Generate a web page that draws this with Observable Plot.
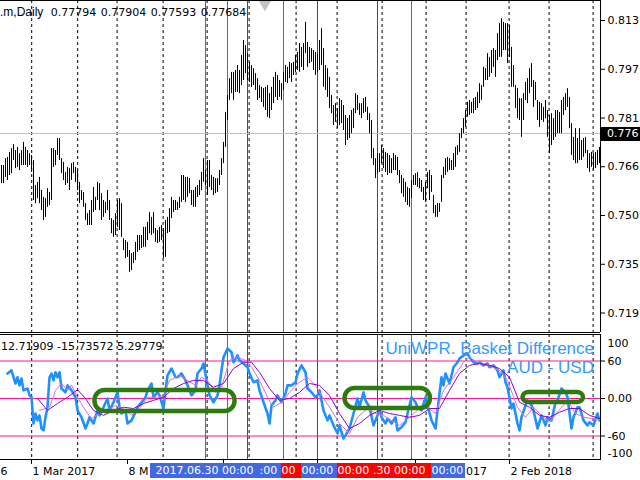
<!DOCTYPE html>
<html><head><meta charset="utf-8">
<script src="https://cdn.jsdelivr.net/npm/d3@7"></script>
<script src="https://cdn.jsdelivr.net/npm/@observablehq/plot@0.6"></script>
<style>
html,body{margin:0;padding:0;background:#fff;}
#wrap{position:relative;width:640px;height:480px;overflow:hidden;background:#fff;font-family:"DejaVu Sans",sans-serif;font-size:11px;color:#000;}
#wrap svg{position:absolute;left:0;}
.t{position:absolute;white-space:pre;line-height:11px;font-size:11px;font-family:"DejaVu Sans",sans-serif;}
.box{position:absolute;height:15px;overflow:hidden;}
.box span{position:absolute;top:0;line-height:15px;color:#fff;white-space:pre;font-size:11px;font-family:"DejaVu Sans",sans-serif;}
.big{position:absolute;white-space:pre;font-family:"Liberation Sans",Arial,sans-serif;font-size:17px;line-height:17px;color:#3399ff;text-align:right;}
</style></head><body><div id="wrap"></div>
<script>
// ---- Price bars (daily high / low), one per bar ----
const high = [
.7666,.7666,.7688,.7692,.7708,.7720,.7733,.7714,.7724,.7704,
.7714,.7740,.7724,.7714,.7704,.7698,.7682,.7602,.7612,.7628,
.7586,.7564,.7560,.7592,.7580,.7720,.7720,.7714,.7752,.7752,
.7688,.7676,.7644,.7660,.7656,.7672,.7676,.7660,.7650,.7612,
.7586,.7580,.7544,.7512,.7522,.7554,.7596,.7564,.7612,.7608,
.7576,.7554,.7548,.7586,.7554,.7496,.7490,.7512,.7554,.7560,
.7544,.7432,.7426,.7420,.7394,.7384,.7388,.7420,.7442,.7442,
.7442,.7468,.7468,.7484,.7516,.7500,.7516,.7464,.7458,.7468,
.7474,.7464,.7490,.7500,.7528,.7564,.7554,.7554,.7548,.7564,
.7634,.7634,.7628,.7628,.7624,.7586,.7586,.7596,.7602,.7618,
.7644,.7688,.7650,.7682,.7682,.7634,.7628,.7624,.7624,.7650,
.7688,.7740,.7836,.7890,.7944,.7964,.7964,.7970,.7986,.7970,
.8018,.8066,.8050,.8024,.7996,.7986,.7976,.7960,.7944,.7922,
.7916,.7912,.7916,.7922,.7896,.7916,.7948,.7964,.7954,.7938,
.7928,.7964,.7986,.7980,.7996,.7992,.7996,.8018,.8028,.8056,
.8044,.8056,.8124,.8060,.8044,.8040,.8034,.8028,.8024,.8066,
.8104,.8040,.7986,.7976,.7948,.7890,.7858,.7864,.7848,.7880,
.7874,.7858,.7826,.7816,.7826,.7842,.7848,.7896,.7890,.7864,
.7864,.7880,.7884,.7852,.7832,.7810,.7720,.7688,.7704,.7704,
.7730,.7720,.7708,.7704,.7698,.7688,.7704,.7698,.7692,.7650,
.7634,.7624,.7612,.7596,.7592,.7618,.7634,.7640,.7644,.7624,
.7618,.7596,.7612,.7644,.7650,.7634,.7570,.7538,.7544,.7544,
.7634,.7660,.7688,.7692,.7688,.7682,.7704,.7724,.7730,.7768,
.7784,.7816,.7842,.7868,.7874,.7868,.7880,.7884,.7900,.7928,
.7922,.7980,.7976,.8024,.8012,.8034,.8040,.8034,.8088,.8120,
.8136,.8124,.8120,.8120,.8114,.8044,.7986,.7922,.7912,.7880,
.7880,.7896,.7932,.7944,.7976,.7992,.7938,.7932,.7874,.7868,
.7864,.7852,.7874,.7842,.7826,.7832,.7816,.7842,.7842,.7836,
.7874,.7884,.7896,.7912,.7884,.7800,.7756,.7784,.7752,.7784,
.7746,.7752,.7756,.7714,.7704,.7708,.7704,.7708,.7714,.7724
];
const low = [
.7608,.7608,.7628,.7618,.7634,.7640,.7682,.7656,.7660,.7650,
.7666,.7666,.7666,.7660,.7666,.7644,.7554,.7544,.7560,.7544,
.7522,.7490,.7500,.7532,.7538,.7554,.7660,.7666,.7698,.7682,
.7640,.7618,.7602,.7608,.7586,.7618,.7640,.7612,.7586,.7544,
.7554,.7532,.7490,.7474,.7474,.7474,.7516,.7522,.7554,.7522,
.7490,.7500,.7512,.7522,.7490,.7448,.7436,.7442,.7468,.7458,
.7436,.7394,.7368,.7372,.7324,.7330,.7352,.7362,.7388,.7394,
.7400,.7404,.7404,.7426,.7448,.7442,.7448,.7420,.7416,.7420,
.7426,.7368,.7372,.7448,.7452,.7496,.7516,.7522,.7522,.7528,
.7548,.7554,.7548,.7564,.7576,.7538,.7532,.7532,.7564,.7570,
.7586,.7612,.7602,.7570,.7596,.7586,.7570,.7576,.7580,.7602,
.7634,.7672,.7724,.7810,.7874,.7896,.7874,.7900,.7900,.7896,
.7922,.7938,.7960,.7938,.7932,.7916,.7922,.7906,.7874,.7880,
.7868,.7852,.7842,.7820,.7816,.7842,.7864,.7884,.7874,.7884,
.7874,.7906,.7932,.7928,.7944,.7932,.7954,.7964,.7970,.7964,
.7980,.7970,.8024,.7980,.7992,.7996,.7970,.7954,.7964,.7970,
.7986,.7916,.7906,.7884,.7848,.7832,.7794,.7804,.7784,.7794,
.7800,.7778,.7730,.7746,.7752,.7768,.7784,.7832,.7842,.7826,
.7816,.7832,.7836,.7810,.7768,.7688,.7666,.7624,.7640,.7644,
.7672,.7656,.7644,.7634,.7640,.7640,.7650,.7650,.7634,.7608,
.7576,.7564,.7548,.7538,.7532,.7560,.7602,.7602,.7596,.7592,
.7580,.7554,.7548,.7592,.7554,.7580,.7512,.7500,.7500,.7516,
.7548,.7624,.7634,.7644,.7650,.7650,.7650,.7660,.7698,.7708,
.7752,.7768,.7788,.7820,.7826,.7832,.7832,.7842,.7848,.7864,
.7874,.7916,.7938,.7938,.7948,.7960,.7980,.7948,.8002,.8012,
.8012,.8034,.8034,.7992,.8012,.7916,.7916,.7848,.7816,.7810,
.7756,.7810,.7874,.7864,.7896,.7916,.7852,.7874,.7810,.7788,
.7810,.7804,.7816,.7756,.7704,.7730,.7746,.7756,.7768,.7768,
.7768,.7826,.7842,.7852,.7784,.7698,.7682,.7672,.7672,.7682,
.7682,.7692,.7704,.7656,.7644,.7660,.7650,.7656,.7666,.7672
];
const lastPrice = 0.77684;
const headerSymbol = ".m,Daily";
const headerOHLC = ["0.77794", "0.77904", "0.77593", "0.77684"];
const priceTicks = [0.8130, 0.7974, 0.7818, 0.7662, 0.7506, 0.7350, 0.7194];

// ---- Time axis (bar index) ----
const monthStarts = [15.1, 38.1, 57.8, 80.8, 102.8, 123.8, 147.3, 167.8, 190.3, 212.3, 232.3, 253.8, 273.8, 295.8];
const axisIdx = [-33, 15, 63, 111, 158, 207, 254];
const axisText = ["27 Dec 2016", "1 Mar 2017", "8 May 2017", "13 Jul 2017", "18 Sep 2017", "22 Nov 2017", "2 Feb 2018"];
const blueVLines = [102, 113, 141, 205];
const blueVText = ["2017.06.30 00:00", "2017.07.17 00:00", "2017.08.24 00:00", "2017.11.22 00:00"];
const redVLines = [123, 158, 188];
const redVText = ["2017.07.31 00:00", "2017.09.18 00:00", "2017.10.30 00:00"];

// ---- Indicator: UniWPR basket difference ----
const indHeader = "12.71909 -15.73572 5.29779";
const indTitle1 = "UniWPR. Basket Difference";
const indTitle2 = "AUD - USD";
const levels = [60, 0, -60];
const wprIdx = [3,5,6,7,8,9,10,11,13,14,15,16,17,18,19,20,21,22,23,24,25,26,27,28,29,30,32,33,35,37,38,40,42,43,44,46,48,49,51,53,54,56,58,59,60,62,63,65,67,68,70,72,73,75,76,78,79,81,82,83,85,87,88,90,92,93,95,97,98,100,101,103,104,106,108,109,110,111,113,115,116,118,119,121,123,124,126,128,129,131,133,134,135,137,138,140,142,143,145,147,148,150,152,153,155,157,158,159,161,163,164,166,168,169,171,172,174,176,178,179,181,182,184,186,187,189,190,192,193,195,197,198,200,202,203,205,207,208,210,212,213,215,217,218,220,221,222,224,226,228,229,231,233,234,236,238,239,241,243,244,246,248,249,251,252,253,255,256,258,259,260,262,263,265,266,268,270,272,273,275,277,278,280,282,283,285,286,288,289,291,293,294,296,298,299];
const wprVal = [40,45,34,24,34,21,32,13,16,5,2,-40,-24,-35,-27,-48,-51,-30,-14,34,40,29,42,34,42,16,10,21,13,2,-19,-30,-48,-40,-30,-40,-19,-27,-14,0,-19,-6,10,-14,-24,-19,-40,-35,-22,-14,-6,2,13,24,2,10,5,-16,13,37,48,34,34,40,29,21,5,13,40,48,56,21,5,-6,5,21,45,66,80,74,58,69,61,56,50,40,26,29,13,-6,-24,-40,-11,-3,5,-6,8,21,21,26,40,53,42,16,10,2,5,13,-19,-35,-27,-43,-56,-43,-64,-59,-48,-24,0,-14,10,-3,-14,-43,-35,-19,-30,-40,-32,-40,-30,-51,-46,-38,-24,2,-6,-14,-19,2,-11,-35,-48,-19,34,21,40,24,50,58,64,69,72,66,58,56,58,53,56,50,53,45,34,45,26,18,-16,-8,-40,-51,-30,-11,-3,-11,-19,-48,-27,-43,-30,-35,-6,-3,16,10,2,-48,-30,-14,-14,-35,-43,-38,-43,-24,-35];
const fastIdx = [19,24,27,30,33,35,38,42,45,49,53,57,61,65,69,73,78,81,84,89,93,97,100,103,107,110,114,118,122,125,129,133,136,140,144,148,153,157,159,164,169,174,178,183,187,191,195,199,204,209,213,217,221,226,231,234,239,244,249,253,258,262,266,270,274,278,283,287,291,295,299];
const fastVal = [-19,-14,13,24,13,21,2,-19,-32,-24,-19,-11,-16,-27,-16,2,2,5,29,37,29,21,34,29,10,18,61,66,61,50,29,2,-14,-6,10,24,34,21,10,-14,-40,-56,-30,-16,-24,-27,-35,-43,-30,-16,-14,-24,13,34,58,66,56,53,45,29,-14,-30,-14,-27,-38,-22,-3,-24,-30,-32,-34];
const slowIdx = [18,23,28,33,38,42,46,51,56,61,66,71,76,81,86,91,96,101,106,111,116,121,125,129,134,139,144,149,154,159,164,169,174,179,184,189,194,199,204,209,214,219,224,229,234,239,244,249,254,259,264,269,274,279,284,289,294,299];
const slowVal = [0,-19,-8,2,14,0,-19,-27,-19,-14,-16,-8,-3,2,16,24,29,29,18,24,48,58,58,42,16,-3,0,10,24,21,5,-24,-48,-40,-27,-19,-24,-27,-30,-27,-16,-16,13,40,53,56,53,48,34,-6,-14,-27,-30,-22,-16,-16,-27,-32];
// annotation boxes (bar index / indicator value)
const boxX1 = [46.75, 171.75, 260.75];
const boxX2 = [116.75, 214.5, 291];
const boxY1 = [-20.8, -16, -6.4];
const boxY2 = [12.8, 16, 9.6];

// ---------------------------------------------------------------
const X_DOMAIN = [-0.5, 299.5];
const P_DOMAIN = [0.71316, 0.8194];
const V_DOMAIN = [-99.2, 102.4];
const wrap = document.getElementById("wrap");
const bars = high.map((h, i) => ({i, h, l: low[i]}));
const pts = (a, b) => a.map((x, k) => ({i: x, v: b[k]}));
const boxes = boxX1.map((x, k) => ({x1: x, x2: boxX2[k], y1: boxY1[k], y2: boxY2[k]}));
const baseStyle = {fontFamily: "DejaVu Sans", fontSize: "11px", background: "transparent", color: "#000", overflow: "visible"};
const trunc3 = d => d.toFixed(4).slice(0, 5);

// text measuring for the overlapping time-axis labels
const ctx = document.createElement("canvas").getContext("2d");
ctx.font = '11px "DejaVu Sans"';
const tw = s => ctx.measureText(s).width;
const xsc = Plot.scale({x: {domain: X_DOMAIN, range: [0, 600]}});
const px = i => xsc.apply(i) + 0.5;

// vertical-line labels: leftmost drawn on top; keep only the visible part
const vl = blueVLines.map((d, k) => ({i: d, t: blueVText[k], c: "#4169e1"}))
  .concat(redVLines.map((d, k) => ({i: d, t: redVText[k], c: "#ff0000"})))
  .sort((a, b) => a.i - b.i);
const HALF = 54.5;
let prevEnd = -Infinity, uStart = Infinity, uEnd = -Infinity;
const segs = [];
vl.forEach(o => {
  const cx = px(o.i) - 1, s = cx - HALF, e = cx + HALF;
  uStart = Math.min(uStart, s); uEnd = Math.max(uEnd, e);
  const vs = Math.max(s, prevEnd);
  prevEnd = Math.max(prevEnd, e);
  if (vs >= e) return;
  const w = tw(o.t), t0 = cx - w / 2;
  let k = 0;
  while (k < o.t.length && t0 + tw(o.t.slice(0, k)) + tw(o.t[k]) / 2 < vs) k++;
  segs.push({vs, e, c: o.c, text: o.t.slice(k), tx: Math.max(vs + 0.5, t0 + tw(o.t.slice(0, k)))});
});

// time-axis labels: keep the characters not hidden by the line labels or the left edge
const covered = [[-Infinity, 0], [uStart, uEnd]];
const isCovered = m => covered.some(([a, b]) => m >= a && m <= b);
const axisMarks = [];
axisIdx.forEach((idx, n) => {
  const s = px(idx) + 1, full = axisText[n];
  const vis = [];
  for (let k = 0; k < full.length; k++) {
    const c0 = s + tw(full.slice(0, k)), m = c0 + tw(full[k]) / 2;
    if (!isCovered(m)) vis.push(k);
  }
  if (!vis.length) return;
  const k0 = vis[0], k1 = vis[vis.length - 1];
  const text = full.slice(k0, k1 + 1);
  let start = s + tw(full.slice(0, k0));
  for (const [a, b] of covered) if (start < b && start >= a - 8) start = Math.max(start, b + 0.5);
  const dx = start - px(idx);
  axisMarks.push(Plot.text([idx], {x: d => d, text: () => text, frameAnchor: "bottom", dy: 7, dx, lineAnchor: "top", textAnchor: "start", fontSize: 11}));
});

const main = Plot.plot({
  width: 640, height: 333,
  marginLeft: 0, marginRight: 40, marginTop: 0, marginBottom: 1,
  x: {domain: X_DOMAIN, axis: null},
  y: {domain: P_DOMAIN, axis: null},
  style: baseStyle,
  marks: [
    Plot.ruleX(monthStarts, {stroke: "#000", strokeDasharray: "3,3"}),
    Plot.ruleX(blueVLines, {stroke: "#4169e1"}),
    Plot.ruleX(redVLines, {stroke: "#ff0000"}),
    Plot.ruleY([lastPrice], {stroke: "#c0c0c0"}),
    Plot.ruleX(bars, {x: "i", y1: "l", y2: "h", stroke: "#000", strokeWidth: 1}),
    Plot.ruleY([P_DOMAIN[1]], {stroke: "#000"}),
    Plot.ruleY([P_DOMAIN[0]], {stroke: "#000"}),
    Plot.ruleX([X_DOMAIN[1]], {stroke: "#000"}),
    Plot.axisY(priceTicks, {anchor: "right", tickSize: 4, tickPadding: 3, tickFormat: trunc3, label: null, fontSize: 11}),
    Plot.dot([131.75], {x: d => d, frameAnchor: "top", dy: 4, symbol: "triangle", rotate: 180, r: 4.5, fill: "#c4c4c4", stroke: "none"})
  ]
});
main.style.top = "0px";
wrap.appendChild(main);

const ind = Plot.plot({
  width: 640, height: 146,
  marginLeft: 0, marginRight: 40, marginTop: 0, marginBottom: 20,
  x: {domain: X_DOMAIN, axis: null},
  y: {domain: V_DOMAIN, axis: null},
  style: baseStyle,
  marks: [
    Plot.ruleX(monthStarts, {stroke: "#000", strokeDasharray: "3,3"}),
    Plot.ruleX(blueVLines, {stroke: "#4169e1"}),
    Plot.ruleX(redVLines, {stroke: "#ff0000"}),
    Plot.ruleY(levels, {stroke: "#ff1493"}),
    Plot.line(pts(wprIdx, wprVal), {x: "i", y: "v", stroke: "#1e90ff", strokeWidth: 2.6, strokeLinejoin: "round"}),
    Plot.line(pts(fastIdx, fastVal), {x: "i", y: "v", stroke: "#dc6fd8", strokeWidth: 1}),
    Plot.line(pts(slowIdx, slowVal), {x: "i", y: "v", stroke: "#9400d3", strokeWidth: 1}),
    Plot.rect(boxes.slice(0, 2), {x1: "x1", x2: "x2", y1: "y1", y2: "y2", rx: 10, fill: "none", stroke: "#2f7a0d", strokeWidth: 4.5}),
    Plot.rect(boxes.slice(2), {x1: "x1", x2: "x2", y1: "y1", y2: "y2", rx: 6, fill: "none", stroke: "#2f7a0d", strokeWidth: 4.5}),
    Plot.ruleY([V_DOMAIN[1]], {stroke: "#000"}),
    Plot.ruleY([V_DOMAIN[0]], {stroke: "#000", dy: -1}),
    Plot.ruleX([X_DOMAIN[1]], {stroke: "#000"}),
    Plot.axisY(levels, {anchor: "right", tickSize: 4, tickPadding: 3, tickFormat: d => d === 0 ? "0.00" : String(d), label: null, fontSize: 11}),
    Plot.text([100], {y: d => d, text: d => String(d), frameAnchor: "right", dx: 7, dy: 7.5, textAnchor: "start", fontSize: 11}),
    Plot.text([-100], {y: d => d, text: d => String(d), frameAnchor: "right", dx: 7, dy: -7.5, textAnchor: "start", fontSize: 11}),
    Plot.axisX(axisIdx.filter(d => d >= X_DOMAIN[0]), {anchor: "bottom", tickSize: 5, tickFormat: () => "", label: null, dy: -1}),
    ...axisMarks
  ]
});
ind.style.top = "334px";
wrap.appendChild(ind);

// ---- HTML overlays positioned through Plot's scales ----
const ys = main.scale("y");
function add(cls, text, css) {
  const d = document.createElement("div");
  d.className = cls; if (text !== null) d.textContent = text;
  Object.assign(d.style, css);
  wrap.appendChild(d);
  return d;
}
add("t", headerSymbol, {left: "0px", top: "6.7px", fontFamily: "Liberation Sans", fontSize: "12px"});
headerOHLC.forEach((s, k) => add("t", s, {left: (50.7 + 50 * k) + "px", top: "6.7px"}));
add("t", String(lastPrice).slice(0, 5), {left: "601px", top: (ys.apply(lastPrice) - 6.5) + "px", width: "39px", height: "14px", lineHeight: "14px", background: "#000", color: "#fff", paddingLeft: "6px", boxSizing: "border-box"});
add("t", indHeader, {left: "1px", top: "340.7px"});
add("big", indTitle1, {right: "46px", top: "340.1px"});
add("big", indTitle2, {right: "46px", top: "359.3px"});
segs.forEach(sg => {
  const b = add("box", null, {left: sg.vs + "px", top: "463px", width: (sg.e - sg.vs) + "px", background: sg.c});
  const sp = document.createElement("span");
  sp.textContent = sg.text;
  sp.style.left = (sg.tx - sg.vs) + "px";
  b.appendChild(sp);
});
</script></body></html>
